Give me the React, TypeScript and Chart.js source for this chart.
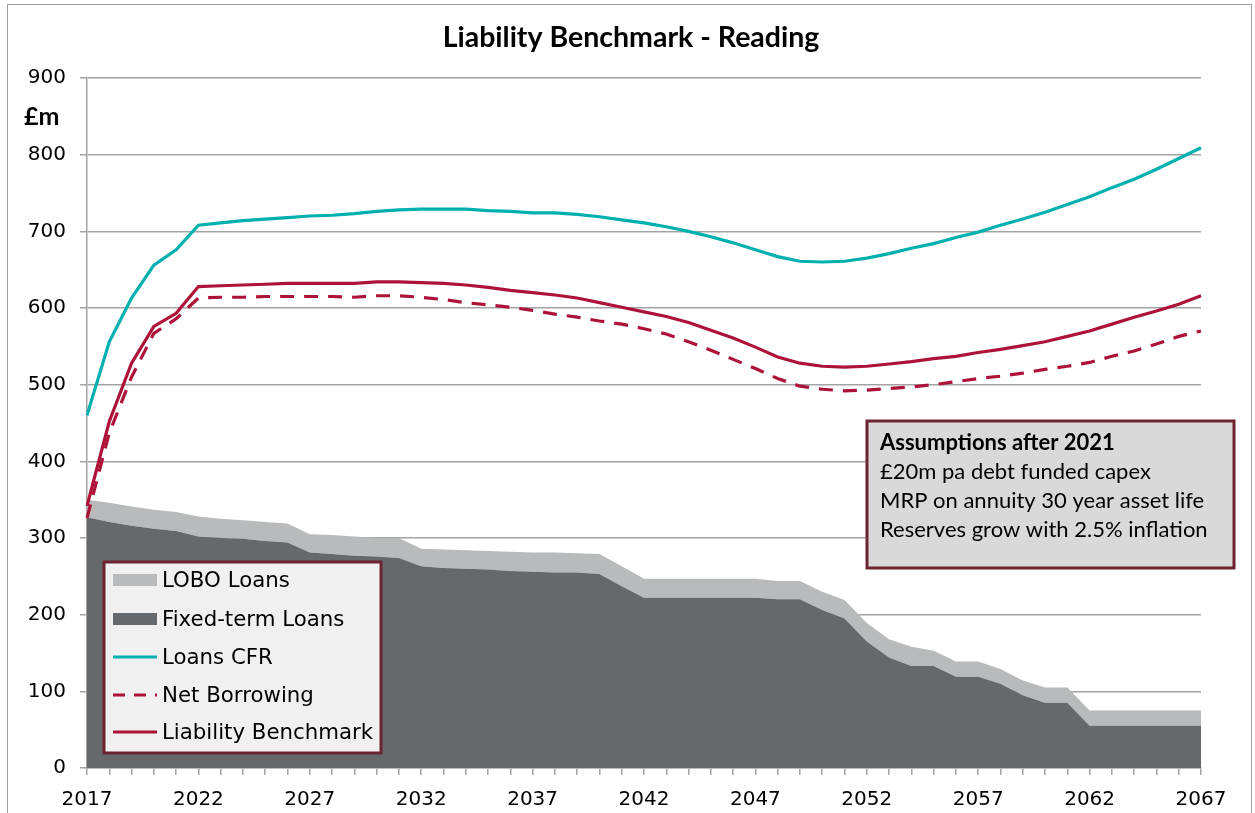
import React, { useEffect, useRef } from 'react';
import { Chart, registerables } from 'chart.js';

Chart.register(...registerables);

const years = [
  '2017', '2018', '2019', '2020', '2021', '2022', '2023', '2024', '2025', '2026',
  '2027', '2028', '2029', '2030', '2031', '2032', '2033', '2034', '2035', '2036',
  '2037', '2038', '2039', '2040', '2041', '2042', '2043', '2044', '2045', '2046',
  '2047', '2048', '2049', '2050', '2051', '2052', '2053', '2054', '2055', '2056',
  '2057', '2058', '2059', '2060', '2061', '2062', '2063', '2064', '2065', '2066',
  '2067',
];

const fixedTermLoans = [
  327, 321, 316, 312, 309, 302, 300, 299, 296, 294,
  281, 279, 277, 276, 274, 263, 261, 260, 259, 257,
  256, 255, 255, 253, 237, 222, 222, 222, 222, 222,
  222, 220, 220, 206, 195, 165, 144, 133, 133, 119,
  119, 110, 95, 85, 85, 55, 55, 55, 55, 55,
  55,
];

const loboLoans = [
  23, 25, 25, 25, 25, 26, 25, 24, 25, 25,
  24, 25, 25, 24, 26, 23, 24, 24, 24, 25,
  25, 26, 25, 26, 26, 25, 25, 25, 25, 25,
  25, 24, 24, 24, 24, 24, 24, 25, 20, 20,
  20, 19, 19, 20, 20, 20, 20, 20, 20, 20,
  20,
];

const loansCFR = [
  460, 556, 613, 656, 676, 708, 711, 714, 716, 718,
  720, 721, 723, 726, 728, 729, 729, 729, 727, 726,
  724, 724, 722, 719, 715, 711, 706, 700, 693, 685,
  676, 667, 661, 660, 661, 665, 671, 678, 684, 692,
  699, 708, 716, 725, 735, 745, 757, 768, 781, 795,
  809,
];

const netBorrowing = [
  326, 437, 510, 567, 586, 613, 614, 614, 615, 615,
  615, 615, 614, 616, 616, 614, 611, 607, 604, 601,
  597, 592, 588, 583, 579, 573, 566, 556, 545, 533,
  521, 508, 498, 494, 492, 493, 495, 497, 500, 504,
  508, 511, 515, 520, 524, 529, 537, 544, 553, 563,
  570,
];

const liabilityBenchmark = [
  342, 452, 528, 576, 593, 628, 629, 630, 631, 632,
  632, 632, 632, 634, 634, 633, 632, 630, 627, 623,
  620, 617, 613, 607, 601, 595, 589, 581, 571, 561,
  549, 536, 528, 524, 523, 524, 527, 530, 534, 537,
  542, 546, 551, 556, 563, 570, 579, 588, 596, 605,
  616,
];

const yMin = 0;
const yMax = 900;
const yStep = 100;

const chartTitle = 'Liability Benchmark - Reading';
const yUnitLabel = '£m';
const noteTitle = 'Assumptions after 2021';
const noteLines = [
  '£20m pa debt funded capex',
  'MRP on annuity 30 year asset life',
  'Reserves grow with 2.5% inflation',
];

const RED = '#ad1339';
const TEAL = '#00b0ae';
const DARK = '#65696c';
const LIGHT = '#b9babc';
const MAROON = '#6d2430';
const GRID = '#a3a3a3';

// legend order: dataset indices
const legendOrder = [4, 3, 0, 1, 2];

const overlayPlugin = {
  id: 'overlay',
  afterDraw(chart: any) {
    const ctx = chart.ctx as CanvasRenderingContext2D;
    ctx.save();

    // Title
    ctx.fillStyle = '#000';
    ctx.textAlign = 'center';
    ctx.textBaseline = 'middle';
    ctx.font = 'bold 28.5px Lato';
    ctx.fillText(chartTitle, 631, 38);

    // Unit label
    ctx.textAlign = 'left';
    ctx.font = 'bold 25px Lato';
    ctx.fillText(yUnitLabel, 24, 117);

    // Legend box
    const lx = 104, ly = 562, lw = 277, lh = 191;
    ctx.fillStyle = '#f0f0f0';
    ctx.fillRect(lx, ly, lw, lh);
    ctx.strokeStyle = MAROON;
    ctx.lineWidth = 3;
    ctx.strokeRect(lx, ly, lw, lh);

    const rowY = [580, 619, 657, 695, 732];
    ctx.font = '21.3px "DejaVu Sans"';
    ctx.textBaseline = 'middle';
    legendOrder.forEach((di, i) => {
      const ds = chart.data.datasets[di];
      const y = rowY[i];
      if (ds.fill) {
        ctx.fillStyle = ds.backgroundColor;
        ctx.fillRect(113, y - 6, 44, 12);
      } else {
        ctx.strokeStyle = ds.borderColor;
        ctx.lineWidth = 3;
        ctx.setLineDash(ds.borderDash && ds.borderDash.length ? [12, 9] : []);
        ctx.beginPath();
        ctx.moveTo(113, y);
        ctx.lineTo(157, y);
        ctx.stroke();
        ctx.setLineDash([]);
      }
      ctx.fillStyle = '#000';
      ctx.fillText(ds.label, 162, y + 1);
    });

    // Note box
    const nx = 867, ny = 421, nw = 367, nh = 147;
    ctx.fillStyle = '#d9d9d9';
    ctx.fillRect(nx, ny, nw, nh);
    ctx.strokeStyle = MAROON;
    ctx.lineWidth = 3;
    ctx.strokeRect(nx, ny, nw, nh);
    ctx.fillStyle = '#000';
    ctx.font = 'bold 22px Lato';
    ctx.fillText(noteTitle, 880, 443);
    ctx.font = '22px Lato';
    noteLines.forEach((t, i) => ctx.fillText(t, 880, 472 + i * 29));

    ctx.restore();
  },
};

export default function App() {
  const canvasRef = useRef<HTMLCanvasElement | null>(null);

  useEffect(() => {
    if (!canvasRef.current) return;
    const chart = new Chart(canvasRef.current, {
      type: 'line',
      data: {
        labels: years,
        datasets: [
          {
            label: 'Loans CFR',
            data: loansCFR,
            borderColor: TEAL,
            backgroundColor: TEAL,
            borderWidth: 3.2,
            pointRadius: 0,
            fill: false,
            tension: 0,
            stack: 'cfr',
          },
          {
            label: 'Net Borrowing',
            data: netBorrowing,
            borderColor: RED,
            backgroundColor: RED,
            borderWidth: 3.2,
            borderDash: [14, 10],
            pointRadius: 0,
            fill: false,
            tension: 0,
            stack: 'net',
          },
          {
            label: 'Liability Benchmark',
            data: liabilityBenchmark,
            borderColor: RED,
            backgroundColor: RED,
            borderWidth: 3.2,
            pointRadius: 0,
            fill: false,
            tension: 0,
            stack: 'lb',
          },
          {
            label: 'Fixed-term Loans',
            data: fixedTermLoans,
            borderColor: DARK,
            backgroundColor: DARK,
            borderWidth: 0,
            pointRadius: 0,
            fill: 'origin',
            tension: 0,
            stack: 'loans',
          },
          {
            label: 'LOBO Loans',
            data: loboLoans,
            borderColor: LIGHT,
            backgroundColor: LIGHT,
            borderWidth: 0,
            pointRadius: 0,
            fill: '-1',
            tension: 0,
            stack: 'loans',
          },
        ],
      },
      options: {
        animation: false,
        responsive: false,
        devicePixelRatio: 1,
        layout: { padding: { top: 78, left: 0, right: 54, bottom: 0 } },
        plugins: {
          legend: { display: false },
          tooltip: { enabled: false },
          title: { display: false },
        },
        scales: {
          x: {
            offset: false,
            grid: {
              display: true,
              drawOnChartArea: false,
              drawTicks: true,
              tickLength: 7,
              color: GRID,
              lineWidth: 1.5,
            },
            border: { display: true, color: GRID, width: 1.5 },
            ticks: {
              autoSkip: false,
              maxRotation: 0,
              minRotation: 0,
              padding: 13,
              color: '#000',
              font: { family: 'DejaVu Sans', size: 20 },
              callback: (_v: any, i: number) => (i % 5 === 0 ? years[i] : ''),
            },
            afterFit: (scale: any) => {
              scale.height = 45;
            },
          },
          y: {
            stacked: true,
            min: yMin,
            max: yMax,
            grid: {
              color: GRID,
              lineWidth: 1.5,
              tickLength: 7,
              drawTicks: true,
            },
            border: { display: true, color: GRID, width: 1.5 },
            ticks: {
              stepSize: yStep,
              padding: 14,
              color: '#000',
              font: { family: 'DejaVu Sans', size: 20 },
            },
            afterFit: (scale: any) => {
              scale.width = 87;
            },
          },
        },
      },
      plugins: [overlayPlugin],
    });
    return () => chart.destroy();
  }, []);

  return (
    <div
      style={{
        position: 'fixed',
        left: 0,
        top: 0,
        width: 1255,
        height: 813,
        overflow: 'hidden',
        background: '#fff',
      }}
    >
      <div
        style={{
          position: 'absolute',
          left: 7,
          top: 4,
          width: 1245,
          height: 840,
          border: '1.5px solid #a0a0a0',
          boxSizing: 'border-box',
        }}
      />
      <canvas
        ref={canvasRef}
        width={1255}
        height={813}
        style={{ position: 'absolute', left: 0, top: 0 }}
      />
    </div>
  );
}
